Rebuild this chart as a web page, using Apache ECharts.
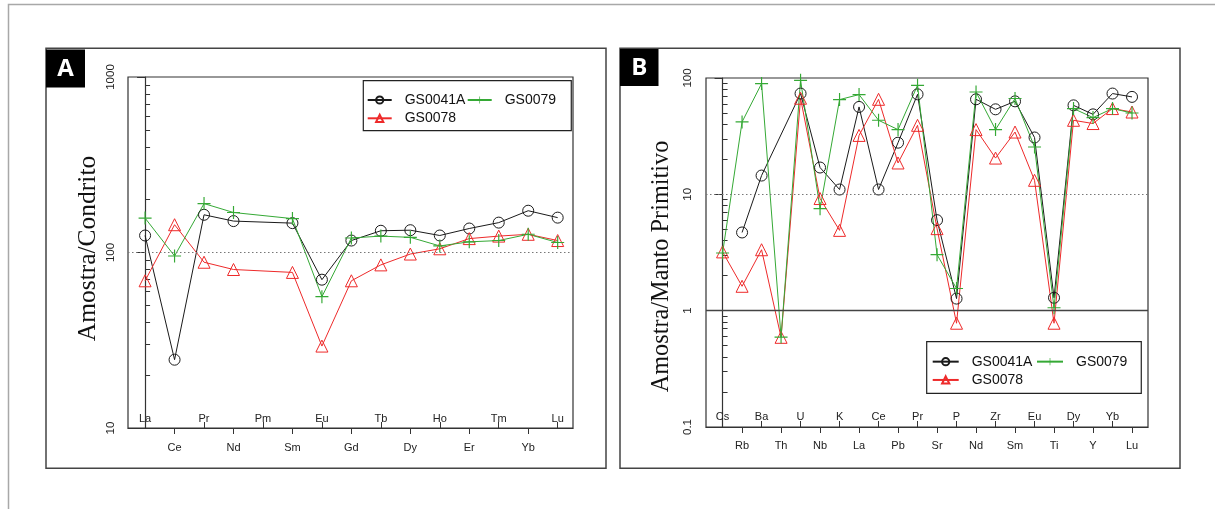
<!DOCTYPE html>
<html><head><meta charset="utf-8">
<script src="https://cdn.jsdelivr.net/npm/echarts@6/dist/echarts.min.js"></script>
<style>html,body{margin:0;padding:0;background:#fff}#c{width:1215px;height:509px}</style>
</head><body><div id="c"></div>
<script>
// ---------- Panel A : REE / Chondrite ----------
const catsA = ['La','Ce','Pr','Nd','Pm','Sm','Eu','Gd','Tb','Dy','Ho','Er','Tm','Yb','Lu'];
const gs0041A_A = [125, 24.5, 164, 151, null, 147, 70, 117, 133, 134, 125, 137, 148, 173, 158];
const gs0078_A  = [69, 144, 88, 80, null, 77, 29.3, 69, 85, 98, 105, 120, 124, 127, 117];
const gs0079_A  = [157, 95.5, 190, 169, null, 156, 56, 121, 124, 122, 109, 115, 117, 127, 114];
const yMinorTicksA = [20,30,40,50,60,70,80,90,200,300,400,500,600,700,800,900];

// ---------- Panel B : Primitive mantle ----------
const catsB = ['Cs','Rb','Ba','Th','U','Nb','K','La','Ce','Pb','Pr','Sr','P','Nd','Zr','Sm','Eu','Ti','Dy','Y','Yb','Lu'];
const gs0041A_B = [null, 4.7, 14.5, null, 73.5, 17, 11, 56.4, 11, 27.8, 72.4, 6.0, 1.27, 65.6, 53.8, 63, 30.8, 1.29, 58.2, 48.7, 73.5, 68.8];
const gs0078_B  = [3.2, 1.62, 3.34, 0.59, 67, 9.2, 4.9, 32.1, 65.6, 18.6, 39.2, 5.07, 0.78, 36, 20.5, 34.3, 13.2, 0.78, 43.3, 40.6, 54.6, 51];
const gs0079_B  = [3.13, 41.9, 89.5, 0.593, 95.5, 7.53, 65.2, 72, 43.3, 36, 86.5, 3.03, 1.55, 75.8, 36, 66.6, 25.5, 1.06, 54.6, 45.7, 54.6, 50];
const yMinorTicksB = [0.2,0.3,0.4,0.5,0.6,0.7,0.8,0.9,2,3,4,5,6,7,8,9,20,30,40,50,60,70,80,90];

const names = ['GS0041A','GS0078','GS0079'];
const BLACK = '#1a1a1a', RED = '#ee2a2a', GREEN = '#35a935';
const PLUS = 'path://M4.55,0H5.45V4.55H10V5.45H5.45V10H4.55V5.45H0V4.55H4.55Z';
const AX = '#333';
const SANS = '"Liberation Sans", Arial, sans-serif';

const odd = arr => arr.map((_, i) => i).filter(i => i % 2 === 1);
const even = arr => arr.map((_, i) => i).filter(i => i % 2 === 0);

function pts(vals) {
  const d = [];
  vals.forEach((v, i) => { if (v !== null) d.push([i, v]); });
  return d;
}
function ser(name, vals, gi, kind, color, extra) {
  const s = {
    type: 'line', name: name, xAxisIndex: gi * 2, yAxisIndex: gi * 2,
    data: pts(vals), showSymbol: true, animation: false,
    lineStyle: { color: color, width: 1 },
    emphasis: { disabled: true }, silent: true
  };
  if (kind === 'circle') {
    s.symbol = 'circle'; s.symbolSize = 11;
    s.itemStyle = { color: 'transparent', borderColor: color, borderWidth: 1 };
  } else if (kind === 'triangle') {
    s.symbol = 'triangle'; s.symbolSize = 12;
    s.itemStyle = { color: 'transparent', borderColor: color, borderWidth: 1 };
  } else {
    s.symbol = PLUS; s.symbolSize = 13;
    s.itemStyle = { color: color };
  }
  return Object.assign(s, extra || {});
}

function xAxes(cats, gi, min, max, outMargin, inMargin) {
  const lab = v => cats[Math.round(v)];
  return [
    { gridIndex: gi, type: 'value', min: min, max: max, position: 'bottom',
      axisLine: { show: true, onZero: false, lineStyle: { color: AX, width: 1.2 } },
      axisTick: { show: true, inside: false, length: 6, customValues: odd(cats), lineStyle: { color: AX } },
      axisLabel: { show: true, customValues: odd(cats), formatter: lab, margin: outMargin,
                   fontSize: 11, color: '#222', fontFamily: SANS },
      splitLine: { show: false } },
    { gridIndex: gi, type: 'value', min: min, max: max, position: 'bottom',
      axisLine: { show: false, onZero: false },
      axisTick: { show: true, inside: true, length: 6, customValues: even(cats), lineStyle: { color: AX } },
      axisLabel: { show: true, inside: true, customValues: even(cats), formatter: lab, margin: inMargin,
                   fontSize: 11, color: '#222', fontFamily: SANS },
      splitLine: { show: false } }
  ];
}
function yAxes(gi, min, max, minor, name, nameGap, nameSize, labMargin, namePad) {
  return [
    { gridIndex: gi, type: 'log', logBase: 10, min: min, max: max, position: 'left',
      axisLine: { show: true, lineStyle: { color: AX, width: 1.2 } },
      axisTick: { show: true, inside: false, length: 8, lineStyle: { color: AX } },
      axisLabel: { rotate: 90, margin: labMargin, fontSize: 11.5, color: '#222', fontFamily: SANS,
                   formatter: v => String(+(+v).toPrecision(3)) },
      splitLine: { show: false },
      name: name, nameLocation: 'middle', nameGap: nameGap, nameRotate: 90,
      nameTextStyle: { fontFamily: '"Liberation Serif", "Times New Roman", serif', fontSize: nameSize,
                       color: '#111', padding: namePad } },
    // helper axis in log10 space, only for the minor (2..9) ticks drawn inside
    { gridIndex: gi, type: 'value', min: Math.log10(min), max: Math.log10(max), position: 'left',
      axisLine: { show: false },
      axisTick: { show: true, inside: true, length: 5, customValues: minor.map(v => Math.log10(v)),
                  lineStyle: { color: AX } },
      axisLabel: { show: false }, splitLine: { show: false } }
  ];
}

const chart = echarts.init(document.getElementById('c'), null, { renderer: 'canvas' });
chart.setOption({
  animation: false,
  backgroundColor: '#fff',
  grid: [
    { left: 128, top: 77, width: 445, height: 351, show: true, borderColor: AX, borderWidth: 1.2 },
    { left: 706, top: 78, width: 442, height: 349, show: true, borderColor: AX, borderWidth: 1.2 }
  ],
  xAxis: [].concat(xAxes(catsA, 0, -0.58, 14.52, 14, 4), xAxes(catsB, 1, -0.85, 21.82, 13.5, 5)),
  yAxis: [].concat(yAxes(0, 10, 1000, yMinorTicksA, 'Amostra/Condrito', 27, 25.5, 11, [0, 0, 0, 8]),
                   yAxes(1, 0.1, 100, yMinorTicksB, 'Amostra/Manto Primitivo', 32, 24.3, 12, [0, 28, 0, 0])),
  legend: [
    { left: 363.3, top: 80.7, width: 200, orient: 'horizontal',
      data: ['GS0041A', 'GS0079', 'GS0078'], selectedMode: false,
      itemWidth: 24, itemHeight: 9, itemGap: 1.3, padding: [10.8, 15.2, 3.9, 3.4],
      borderColor: '#222', borderWidth: 1.2,
      textStyle: { fontSize: 14, fontFamily: SANS, color: '#111', padding: [0, 0, 0, 8], lineHeight: 17 } },
    { left: 926.7, top: 341.7, width: 210, orient: 'horizontal',
      data: ['GS0041A', 'GS0079', 'GS0078'], selectedMode: false,
      itemWidth: 26, itemHeight: 9, itemGap: 3.6, padding: [12.6, 13.9, 6, 5],
      borderColor: '#222', borderWidth: 1.2,
      textStyle: { fontSize: 14, fontFamily: SANS, color: '#111', padding: [0, 0, 0, 8], lineHeight: 14.7 } }
  ],
  graphic: [
    { type: 'rect', silent: true, z: -10, shape: { x: 8.5, y: 4.5, width: 1300, height: 600 },
      style: { fill: 'none', stroke: '#a8a8a8', lineWidth: 1.5 } },
    { type: 'rect', silent: true, shape: { x: 46, y: 48.3, width: 560, height: 420 },
      style: { fill: 'none', stroke: '#444', lineWidth: 1.5 } },
    { type: 'rect', silent: true, shape: { x: 620, y: 48.3, width: 560, height: 420 },
      style: { fill: 'none', stroke: '#444', lineWidth: 1.5 } },
    { type: 'rect', silent: true, shape: { x: 46, y: 49.5, width: 39, height: 38 }, style: { fill: '#000' } },
    { type: 'text', silent: true, x: 65.5, y: 69, style: { text: 'A', fill: '#fff', font: 'bold 24px "Open Sans", sans-serif',
      align: 'center', verticalAlign: 'middle', textAlign: 'center', textVerticalAlign: 'middle' } },
    { type: 'rect', silent: true, shape: { x: 620, y: 49, width: 38.5, height: 37 }, style: { fill: '#000' } },
    { type: 'text', silent: true, x: 639.3, y: 68, style: { text: 'B', fill: '#fff', font: 'bold 24px "Open Sans", sans-serif',
      align: 'center', verticalAlign: 'middle', textAlign: 'center', textVerticalAlign: 'middle' } }
  ],
  series: [
    ser(names[0], gs0041A_A, 0, 'circle', BLACK, {
      markLine: { silent: true, symbol: 'none', animation: false, label: { show: false },
        lineStyle: { color: '#777', width: 1, type: [1.5, 2.5] }, data: [{ yAxis: 100 }] } }),
    ser(names[1], gs0078_A, 0, 'triangle', RED),
    ser(names[2], gs0079_A, 0, 'plus', GREEN),
    ser(names[0], gs0041A_B, 1, 'circle', BLACK, {
      markLine: { silent: true, symbol: 'none', animation: false, label: { show: false },
        data: [
          { yAxis: 10, lineStyle: { color: '#777', width: 1, type: [1.5, 2.5] } },
          { yAxis: 1, lineStyle: { color: '#444', width: 1.3, type: 'solid' } }
        ] } }),
    ser(names[1], gs0078_B, 1, 'triangle', RED),
    ser(names[2], gs0079_B, 1, 'plus', GREEN)
  ]
});
</script>
</body></html>
